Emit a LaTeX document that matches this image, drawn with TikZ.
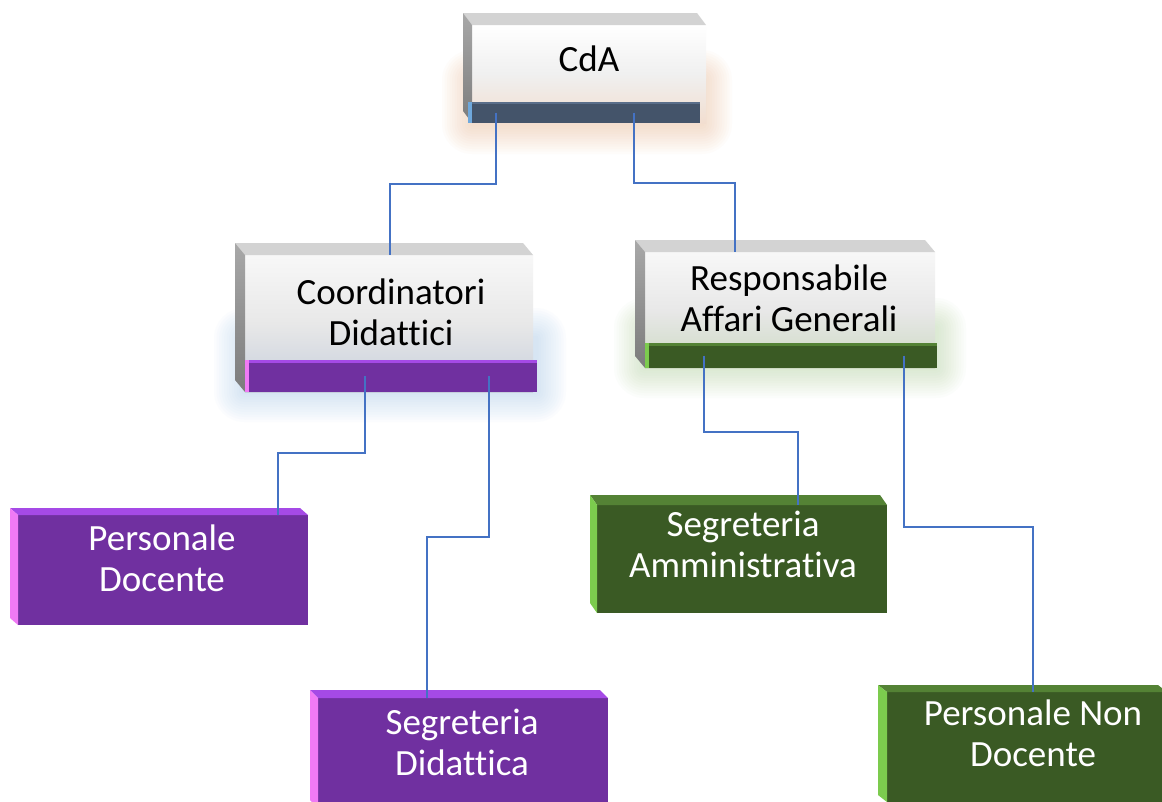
\documentclass[tikz,border=0pt]{standalone}
\usepackage{fontspec}
\setmainfont[Ligatures=CommonOff]{Carlito}
\usetikzlibrary{calc}
\definecolor{purp}{HTML}{7030A0}
\definecolor{purptop}{HTML}{A54AE6}
\definecolor{purpside}{HTML}{F07AF5}
\definecolor{grn}{HTML}{3A5A24}
\definecolor{grntop}{HTML}{548235}
\definecolor{grnside}{HTML}{7CCB4E}
\definecolor{slate}{HTML}{44546A}
\definecolor{slateside}{HTML}{6FA8DC}
\definecolor{slatetop}{HTML}{5A6E8A}
\definecolor{conncol}{HTML}{4472C4}
\definecolor{bevgray}{HTML}{D3D3D3}
\definecolor{sidegrayA}{HTML}{A8A8A8}
\definecolor{sidegrayB}{HTML}{7C7C7C}
\definecolor{glowor}{HTML}{F4B183}
\definecolor{glowbl}{HTML}{9DC3E6}
\definecolor{glowgr}{HTML}{A9D18E}
\definecolor{tintor}{HTML}{F2DED0}
\definecolor{tintbl}{HTML}{C6CEDC}
\definecolor{tintgr}{HTML}{CCD9C2}
\tikzset{
  face/.style={rectangle, inner sep=0pt, outer sep=0pt, anchor=north west, draw=none},
  lbl/.style={align=center, font=\fontsize{37}{41}\selectfont, inner sep=0pt},
  wlbl/.style={lbl, text=white},
  conn/.style={draw=conncol, line width=1.5pt},
}
\newcommand\mybevel[5]{%
  \path[#4] (#1.north west) -- ++(-#2,-#3) -- ($(#1.north east)+(-#2,-#3)$) -- (#1.north east) -- cycle;
  \path[#5] (#1.north west) -- ++(-#2,-#3) -- ($(#1.south west)+(-#2,-#3)$) -- (#1.south west) -- cycle;}
\newcommand\myglow[5]{%
  \foreach \k in {1,...,12}{%
    \pgfmathsetmacro\rr{\k*2.5}%
    \fill[#5, opacity=0.035, rounded corners=\rr pt] ($(#1,#2)+(-\rr,-\rr)$) rectangle ($(#3,#4)+(\rr,\rr)$);}}
\begin{document}
\begin{tikzpicture}[x=1pt,y=-1pt]
\useasboundingbox (0,0) rectangle (1162,801);
\fill[white] (0,0) rectangle (1162,801);

% glows
\myglow{472}{80}{702}{124}{glowor}
\myglow{244}{338}{536}{392}{glowbl}
\myglow{644}{328}{936}{368}{glowgr}

% CdA
\node[face, top color=white, bottom color=tintor, middle color=white!94!black, minimum width=234, minimum height=98] (cdaf) at (472,25) {};
\mybevel{cdaf}{9}{12}{fill=bevgray}{top color=sidegrayA, bottom color=sidegrayB}
\node[face, fill=slate, minimum width=232, minimum height=21] (cdabar) at (468,102) {};
\fill[slatetop] (cdabar.north west) rectangle ($(cdabar.north east)+(0,2)$);
\fill[slateside] (cdabar.north west) rectangle ($(cdabar.south west)+(4,0)$);
\node[lbl] (cdat) at (589,59) {CdA};

% Coordinatori Didattici
\node[face, top color=white!97!black, bottom color=tintbl, middle color=white!91!black, minimum width=288, minimum height=137] (coordf) at (245,255) {};
\mybevel{coordf}{10}{12}{fill=bevgray}{top color=sidegrayA, bottom color=sidegrayB}
\node[face, fill=purp, minimum width=292, minimum height=32] (coordbar) at (245,360) {};
\fill[purptop] (coordbar.north west) rectangle ($(coordbar.north east)+(0,3)$);
\fill[purpside] (coordbar.north west) rectangle ($(coordbar.south west)+(4,0)$);
\node[lbl] (coordt) at (391,312) {Coordinatori\\Didattici};

% Responsabile Affari Generali
\node[face, top color=white!97!black, bottom color=tintgr, middle color=white!91!black, minimum width=290, minimum height=116] (respf) at (645,252) {};
\mybevel{respf}{10}{12}{fill=bevgray}{top color=sidegrayA, bottom color=sidegrayB}
\node[face, fill=grn, minimum width=292, minimum height=25] (respbar) at (645,343) {};
\fill[grntop] (respbar.north west) rectangle ($(respbar.north east)+(0,3)$);
\fill[grnside] (respbar.north west) rectangle ($(respbar.south west)+(4,0)$);
\node[lbl] (respt) at (789,298) {Responsabile\\Affari Generali};

% Purple boxes
\node[face, fill=purp, minimum width=290, minimum height=110] (pdoc) at (18,515) {};
\mybevel{pdoc}{8}{7}{fill=purptop}{fill=purpside}
\node[wlbl] (pdoct) at (162,558) {Personale\\Docente};

\node[face, fill=purp, minimum width=290, minimum height=110] (sdid) at (318,698) {};
\mybevel{sdid}{8}{8}{fill=purptop}{fill=purpside}
\node[wlbl] (sdidt) at (462,742) {Segreteria\\Didattica};

% Green boxes
\node[face, fill=grn, minimum width=290, minimum height=108] (samm) at (597,505) {};
\mybevel{samm}{7}{10}{fill=grntop}{fill=grnside}
\node[wlbl] (sammt) at (743,544) {Segreteria\\Amministrativa};

\node[face, fill=grn, minimum width=280, minimum height=110] (pnd) at (887,692) {};
\mybevel{pnd}{9}{7}{fill=grntop}{fill=grnside}
\node[wlbl] (pndt) at (1033,733) {Personale Non\\Docente};

% connectors
\draw[conn] (cdabar.center -| 496,0) |- (390,184) -- (coordf.north -| 390,0);
\draw[conn] (cdabar.center -| 634,0) |- (735,183) -- (respf.north -| 735,0);
\draw[conn] (coordbar.center -| 365,0) |- (278,453) -- (pdoc.north -| 278,0);
\draw[conn] (coordbar.center -| 489,0) |- (427,537) -- (sdid.north -| 427,0);
\draw[conn] (respbar.center -| 704,0) |- (798,432) -- (samm.north -| 798,0);
\draw[conn] (respbar.center -| 904,0) |- (1033,527) -- (pnd.north -| 1033,0);
\end{tikzpicture}
\end{document}
